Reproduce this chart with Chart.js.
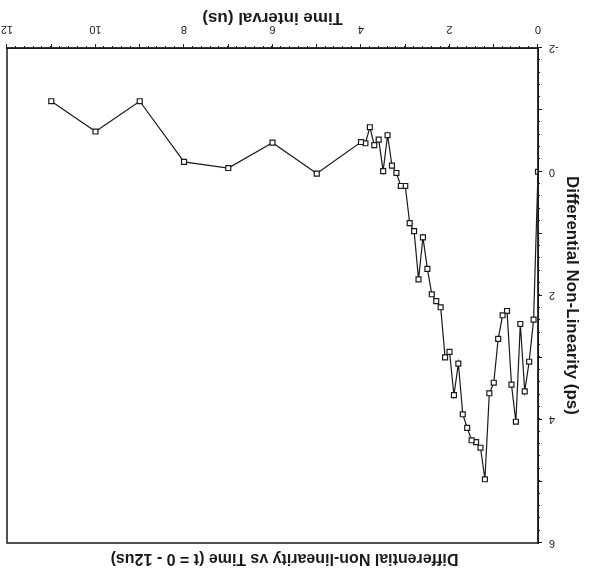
<!DOCTYPE html>
<html>
<head>
<meta charset="utf-8">
<script src="https://cdn.jsdelivr.net/npm/chart.js@4.4.0/dist/chart.umd.min.js"></script>
<style>
  html, body { margin: 0; padding: 0; background: #fff; }
  /* the scanned page is upside down, so the whole chart is turned 180 degrees */
  #wrap { width: 591px; height: 575px; transform: rotate(180deg); }
</style>
</head>
<body>
<div id="wrap"><canvas id="dnlChart" width="591" height="575"></canvas></div>
<script>
// Time (us) and differential non-linearity (ps)
const timeUs = [0, 0.1, 0.2, 0.3, 0.4, 0.5, 0.6, 0.7, 0.8, 0.9,
                1.0, 1.1, 1.2, 1.3, 1.4, 1.5, 1.6, 1.7, 1.8, 1.9,
                2.0, 2.1, 2.2, 2.3, 2.4, 2.5, 2.6, 2.7, 2.8, 2.9,
                3.0, 3.1, 3.2, 3.3, 3.4, 3.5, 3.6, 3.7, 3.8, 3.9,
                4.0, 5, 6, 7, 8, 9, 10, 11];
const dnlPs = [0.0, 2.39, 3.07, 3.55, 2.46, 4.04, 3.44, 2.25, 2.32, 2.70,
               3.41, 3.58, 4.97, 4.46, 4.37, 4.34, 4.14, 3.92, 3.10, 3.61,
               2.91, 3.00, 2.19, 2.09, 1.98, 1.57, 1.06, 1.74, 0.96, 0.83,
               0.23, 0.23, 0.02, -0.10, -0.59, -0.01, -0.52, -0.43, -0.72, -0.46,
               -0.48, 0.03, -0.47, -0.06, -0.16, -1.14, -0.65, -1.14];

const xTickLabels = [0, 2, 4, 6, 8, 10, 12];
const yTickLabels = [-2, 0, 2, 4, 6];

const chartTitle = 'Differential Non-linearity vs Time (t = 0 - 12us)';

const ink = '#1a1a1a';
const fontFamily = '"Liberation Sans", Arial, sans-serif';

// frame around the plot, the small minor ticks and the title over the plot area
const framePlugin = {
    id: 'frame',
    afterDraw(chart) {
        const { ctx, chartArea: a, scales } = chart;
        ctx.save();
        ctx.strokeStyle = ink;
        ctx.lineWidth = 1.5;
        ctx.strokeRect(a.left, a.top, a.right - a.left, a.bottom - a.top);
        ctx.lineWidth = 1;
        ctx.beginPath();
        for (let v = 0; v <= 12.001; v += 0.2) {
            const px = Math.round(scales.x.getPixelForValue(v)) + 0.5;
            ctx.moveTo(px, a.bottom);
            ctx.lineTo(px, a.bottom + 2);
        }
        for (let v = -2; v <= 6.001; v += 0.2) {
            const py = Math.round(scales.y.getPixelForValue(v)) + 0.5;
            ctx.moveTo(a.left, py);
            ctx.lineTo(a.left - 2, py);
        }
        ctx.stroke();

        // title sits a little off the plot centre in the scan
        ctx.fillStyle = ink;
        ctx.font = 'bold 16px ' + fontFamily;
        ctx.textAlign = 'center';
        ctx.textBaseline = 'middle';
        ctx.fillText(chartTitle, (a.left + a.right) / 2 - 12, 17);
        ctx.restore();
    }
};

const ctx = document.getElementById('dnlChart').getContext('2d');
new Chart(ctx, {
    type: 'line',
    data: {
        datasets: [{
            data: timeUs.map((t, i) => ({ x: t, y: dnlPs[i] })),
            borderColor: ink,
            borderWidth: 1.2,
            pointStyle: 'rect',
            pointRadius: 3.5,
            pointBorderWidth: 1.2,
            pointBorderColor: ink,
            pointBackgroundColor: '#fff',
            tension: 0
        }]
    },
    options: {
        responsive: false,
        animation: false,
        layout: { padding: { top: 32, right: 0, bottom: 0, left: 0 } },
        plugins: {
            legend: { display: false },
            tooltip: { enabled: false },
            title: { display: false }
        },
        scales: {
            x: {
                type: 'linear',
                min: 0,
                max: 12,
                afterFit(scale) {
                    scale.height = 48;
                    scale.paddingRight = 7;
                },
                border: { display: true, color: ink, width: 1.5 },
                grid: { drawOnChartArea: false, drawTicks: true, tickLength: 4, color: ink },
                ticks: {
                    stepSize: 1,
                    autoSkip: false,
                    maxRotation: 0,
                    padding: 8,
                    color: ink,
                    font: { family: fontFamily, size: 11 },
                    callback: v => xTickLabels.includes(v) ? String(v) : ''
                },
                title: {
                    display: true,
                    text: 'Time interval (us)',
                    color: ink,
                    font: { family: fontFamily, size: 17, weight: 'bold' },
                    padding: { top: 0, bottom: 7 }
                }
            },
            y: {
                type: 'linear',
                min: -2,
                max: 6,
                afterFit(scale) { scale.width = 53; },
                border: { display: true, color: ink, width: 1.5 },
                grid: { drawOnChartArea: false, drawTicks: true, tickLength: 4, color: ink },
                ticks: {
                    stepSize: 1,
                    autoSkip: false,
                    padding: 7,
                    color: ink,
                    font: { family: fontFamily, size: 11 },
                    callback: v => yTickLabels.includes(v) ? String(v) : ''
                },
                title: {
                    display: true,
                    text: 'Differential Non-Linearity (ps)',
                    color: ink,
                    font: { family: fontFamily, size: 17, weight: 'bold' },
                    padding: { top: 9, bottom: 0 }
                }
            }
        }
    },
    plugins: [framePlugin]
});
</script>
</body>
</html>
